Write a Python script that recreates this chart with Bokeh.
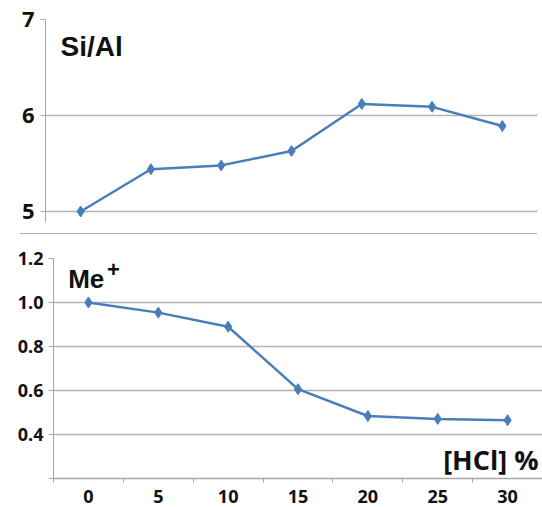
from bokeh.plotting import figure
from bokeh.models import Range1d, FixedTicker, Label, Div
from bokeh.layouts import column, row
from bokeh.embed import file_html
from bokeh.resources import INLINE

# ---- data ----
hcl = [0, 5, 10, 15, 20, 25, 30]
si_al = [5.00, 5.44, 5.48, 5.63, 6.12, 6.09, 5.89]
me = [1.00, 0.954, 0.89, 0.606, 0.484, 0.471, 0.465]
top_ticks = [5, 6, 7]
bottom_ticks = [0.2, 0.4, 0.6, 0.8, 1.0, 1.2]
bottom_tick_labels = ["", "0.4", "0.6", "0.8", "1.0", "1.2"]
x_ticks = [0, 5, 10, 15, 20, 25, 30]
x_tick_labels = ["0", "5", "10", "15", "20", "25", "30"]
x_boundaries = [-2.5, 2.5, 7.5, 12.5, 17.5, 22.5, 27.5, 32.5]

BLUE = "#4a7ebb"
GRID = "#b3b3b3"
AXIS = "#a6a6a6"
TICKFONT = "Open Sans"
TITLEFONT = "Liberation Sans"
INK = "#111111"

# ---- top panel: Si/Al ----
p1 = figure(width=542, height=233, x_range=Range1d(-2.5, 32.5), y_range=Range1d(4.885, 7),
            output_backend="svg", toolbar_location=None, x_axis_location=None,
            min_border_left=45, min_border_right=5, min_border_top=19, min_border_bottom=11)
p1.outline_line_color = None
p1.xgrid.visible = False
p1.ygrid.grid_line_color = GRID
p1.ygrid.grid_line_width = 1.5
p1.yaxis.ticker = FixedTicker(ticks=top_ticks)
p1.yaxis.axis_line_color = AXIS
p1.yaxis.major_tick_line_color = AXIS
p1.yaxis.major_tick_out = 5
p1.yaxis.major_tick_in = 0
p1.yaxis.minor_tick_line_color = None
p1.yaxis.major_label_standoff = 6
p1.yaxis.major_label_text_font = TICKFONT
p1.yaxis.major_label_text_font_style = "bold"
p1.yaxis.major_label_text_font_size = "22px"
p1.yaxis.major_label_text_color = INK

p1.line(hcl, si_al, line_color=BLUE, line_width=2.5)
p1.scatter(hcl, si_al, marker="diamond", size=11, fill_color=BLUE, line_color=BLUE)
p1.add_layout(Label(x=-1.43, y=6.715, text="Si/Al", text_font=TITLEFONT, text_font_style="bold",
                    text_font_size="28px", text_color=INK, text_baseline="alphabetic"))

# ---- separator ----
sep = Div(text="", width=517, height=1, margin=(0, 0, 0, 20),
          styles={"background-color": GRID})

# ---- bottom panel: Me+ ----
p2 = figure(width=542, height=273, x_range=Range1d(-2.5, 32.5), y_range=Range1d(0.2, 1.2),
            output_backend="svg", toolbar_location=None,
            min_border_left=53, min_border_right=0, min_border_top=24, min_border_bottom=29)
p2.outline_line_color = None
p2.xgrid.visible = False
p2.ygrid.grid_line_color = GRID
p2.ygrid.grid_line_width = 1.5
p2.yaxis.ticker = FixedTicker(ticks=bottom_ticks)
p2.yaxis.major_label_overrides = dict(zip(bottom_ticks, bottom_tick_labels))
p2.yaxis.axis_line_color = AXIS
p2.yaxis.major_tick_line_color = AXIS
p2.yaxis.major_tick_out = 5
p2.yaxis.major_tick_in = 0
p2.yaxis.minor_tick_line_color = None
p2.yaxis.major_label_standoff = 5
for ax in (p2.yaxis, p2.xaxis):
    ax.major_label_text_font = TICKFONT
    ax.major_label_text_font_style = "bold"
    ax.major_label_text_font_size = "18px"
    ax.major_label_text_color = INK

p2.xaxis.ticker = FixedTicker(ticks=x_ticks, minor_ticks=x_boundaries)
p2.xaxis.major_label_overrides = dict(zip(x_ticks, x_tick_labels))
p2.xaxis.axis_line_color = AXIS
p2.xaxis.axis_line_width = 1.5
p2.xaxis.major_tick_line_color = None
p2.xaxis.minor_tick_line_color = AXIS
p2.xaxis.minor_tick_out = 4
p2.xaxis.minor_tick_in = 0
p2.xaxis.major_label_standoff = 5

p2.line(hcl, me, line_color=BLUE, line_width=2.5)
p2.scatter(hcl, me, marker="diamond", size=11, fill_color=BLUE, line_color=BLUE)
p2.add_layout(Label(x=-1.45, y=1.109, text="Me", text_font=TITLEFONT, text_font_style="bold",
                    text_font_size="26px", text_color=INK, text_baseline="alphabetic"))
p2.add_layout(Label(x=1.33, y=1.15, text="+", text_font=TITLEFONT, text_font_style="bold",
                    text_font_size="22px", text_color=INK, text_baseline="alphabetic"))
p2.add_layout(Label(x=32.5, y=0.286, x_offset=-4, text="[HCl] %", text_font=TICKFONT,
                    text_font_style="bold", text_font_size="27px", text_color=INK,
                    text_align="right", text_baseline="alphabetic"))

layout = column(row(p1), sep, row(p2), spacing=0)
open("out.html", "w").write(file_html(layout, INLINE))
